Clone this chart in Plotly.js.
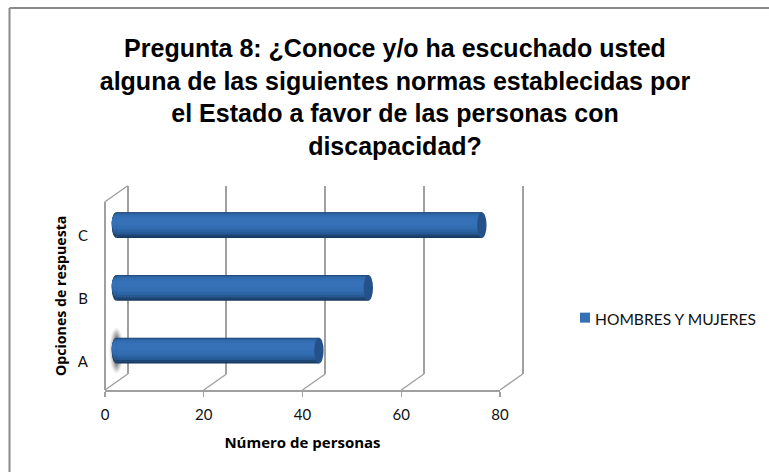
<!DOCTYPE html>
<html><head><meta charset="utf-8">
<script src="https://cdn.plot.ly/plotly-3.0.1.min.js"></script>
<style>html,body{margin:0;padding:0;background:#fff}#c{width:769px;height:472px}</style>
</head><body><div id="c"></div>
<script>
const categories = ["A", "B", "C"];
const values = [41, 51, 74];
const seriesName = "HOMBRES Y MUJERES";
const xTicks = [0, 20, 40, 60, 80];
const titleLines = ["Pregunta 8: ¿Conoce y/o ha escuchado usted",
  "alguna de las siguientes normas establecidas por",
  "el Estado a favor de las personas con", "discapacidad?"];

const W = 769, H = 472;
const px = v => v / W, py = v => 1 - v / H;
const x0 = 105, xEnd = 500, yBot = 390, yTop = 201.7;
const depthX = 22.7, depthY = 16, midX = 11.5, midY = 8;
const unit = (xEnd - x0) / 80;
const pos = categories.map((_, i) => i);
const pad = 6; // units of room left of zero for the rounded bar ends

// nested bands that shade the cylinder: [low, high, colour] in category units around the centre
const bands = [
  [-0.205, 0.205, "#17375f"], [-0.2, 0.185, "#1e4673"], [-0.195, 0.15, "#275a94"],
  [-0.185, 0.115, "#2c63a2"], [-0.17, 0.08, "#306aac"], [-0.15, 0.05, "#336eb3"],
  [-0.12, 0.0, "#3671b7"]
];
const traces = bands.map((b, k) => ({
  type: "bar", orientation: "h", xaxis: "x3", yaxis: "y3",
  x: values, y: pos, base: 0,
  width: b[1] - b[0], offset: -b[1],
  name: seriesName, showlegend: k === bands.length - 1,
  marker: {color: b[2], line: {width: 0}}, hoverinfo: "x+y"
}));
traces.unshift({type: "scatter", mode: "none", x: xTicks, y: xTicks.map(() => 0), xaxis: "x", yaxis: "y", showlegend: false, hoverinfo: "skip"});
traces.splice(1, 0, {type: "scatter", mode: "none", x: xTicks, y: xTicks.map(() => 0), xaxis: "x2", yaxis: "y2", showlegend: false, hoverinfo: "skip"});

const wall = "#a0a0a0";
const shapes = [];
const line = (ax, ay, bx, by, c, w) => shapes.push({type: "line", xref: "paper", yref: "paper", layer: "below",
  x0: px(ax), y0: py(ay), x1: px(bx), y1: py(by), line: {color: c, width: w}});
// frame of the picture
line(9.5, 8, 9.5, H, "#8a8a8a", 2);
line(9.5, 8, W, 8, "#8a8a8a", 2);
// floor diagonals and side wall
xTicks.forEach(t => line(x0 + t * unit, yBot, x0 + t * unit + depthX, yBot - depthY, wall, 1.4));
line(x0, yTop, x0 + depthX, yTop - depthY, wall, 1.4);
line(x0, yTop, x0, yBot, wall, 2);

// soft shadow behind the start of bar A
[[1.45, 0.36, 0.1], [1.2, 0.33, 0.15], [1.0, 0.3, 0.2], [0.8, 0.27, 0.25], [0.6, 0.24, 0.3]].forEach(s => shapes.push({
  type: "circle", xref: "x3", yref: "y3", layer: "below",
  x0: -s[0], x1: s[0], y0: pos[0] - s[1], y1: pos[0] + s[1],
  fillcolor: "rgba(90,90,90," + s[2] + ")", line: {width: 0}
}));
// cylinder ends
const rx = 0.95;
pos.forEach((p, i) => {
  bands.forEach(b => {
    const a = p - b[1], c = p - b[0], k = rx * 1.33;
    shapes.push({type: "path", xref: "x3", yref: "y3", layer: "above",
      path: `M 0 ${a} C ${-k} ${a} ${-k} ${c} 0 ${c} Z`, fillcolor: b[2], line: {width: 0}});
  });
  shapes.push({type: "circle", xref: "x3", yref: "y3", layer: "above",
    x0: values[i] - rx, x1: values[i] + rx, y0: p - 0.205, y1: p + 0.205,
    fillcolor: "#24518a", line: {width: 0}});
});

const blank = {showgrid: false, zeroline: false, showticklabels: false, ticks: "", showline: false, fixedrange: true};
const tickFont = {family: "Lato, sans-serif", size: 15, color: "#111"};
const titleFamily = "'Open Sans', sans-serif";
const layout = {
  width: W, height: H, margin: {l: 0, r: 0, t: 0, b: 0, pad: 0},
  paper_bgcolor: "#fff", plot_bgcolor: "rgba(0,0,0,0)", barmode: "overlay", showlegend: true,
  font: {family: "Lato, sans-serif", color: "#111", size: 14},
  title: {text: titleLines.join("<br>"), x: px(395), xanchor: "center", y: py(57), yanchor: "top",
    font: {family: "'Liberation Sans', sans-serif", size: 25, weight: 700, color: "#000"}},
  xaxis: {...blank, domain: [px(x0 + depthX - unit), px(xEnd + depthX + unit)], range: [-1, 81], tickmode: "array", tickvals: xTicks,
    showgrid: true, gridcolor: wall, gridwidth: 2, anchor: "y"},
  yaxis: {...blank, domain: [py(yBot - depthY), py(yTop - depthY)], range: [-0.5, 2.5], anchor: "x"},
  xaxis2: {domain: [px(x0), px(xEnd)], range: [0, 80], tickvals: xTicks, ticktext: xTicks.map(String), tickmode: "array",
    showline: true, linecolor: wall, linewidth: 2, ticks: "outside", ticklen: 5, tickcolor: wall, tickwidth: 1.4,
    showgrid: false, zeroline: false, anchor: "y2", fixedrange: true, tickfont: tickFont, ticklabelstandoff: 5,
    title: {text: "Número de personas", standoff: 15, font: {family: titleFamily, size: 15, weight: 700, color: "#000"}}},
  yaxis2: {domain: [py(yBot), py(yTop)], range: [-0.45, 2.55], tickmode: "array", tickvals: pos, ticktext: categories,
    showline: false, ticks: "", showgrid: false, zeroline: false, anchor: "x2", fixedrange: true,
    ticklabelstandoff: 16, tickfont: tickFont,
    title: {text: "Opciones de respuesta", standoff: 7, font: {family: titleFamily, size: 14.2, weight: 700, color: "#000"}}},
  xaxis3: {...blank, domain: [px(x0 + midX - pad * unit), px(xEnd + midX)], range: [-pad, 80], anchor: "y3"},
  yaxis3: {...blank, domain: [py(yBot - midY), py(yTop - midY)], range: [-0.5, 2.5], anchor: "x3"},
  legend: {x: px(555), xanchor: "left", y: py(319), yanchor: "middle", font: {family: "Lato, sans-serif", size: 15.6, color: "#111"},
    bgcolor: "rgba(0,0,0,0)", itemwidth: 30},
  shapes
};
Plotly.newPlot("c", traces, layout, {displayModeBar: false, staticPlot: true}).then(gd => {
  // the swatch sits close to its label in the reference
  gd.querySelectorAll(".legend .legendsymbols").forEach(n => n.setAttribute("transform", "translate(10,-1)"));
  gd.querySelectorAll(".legend .legendpoints path").forEach(n => n.setAttribute("d", "M5,5H-5V-5H5Z"));
});
</script></body></html>
